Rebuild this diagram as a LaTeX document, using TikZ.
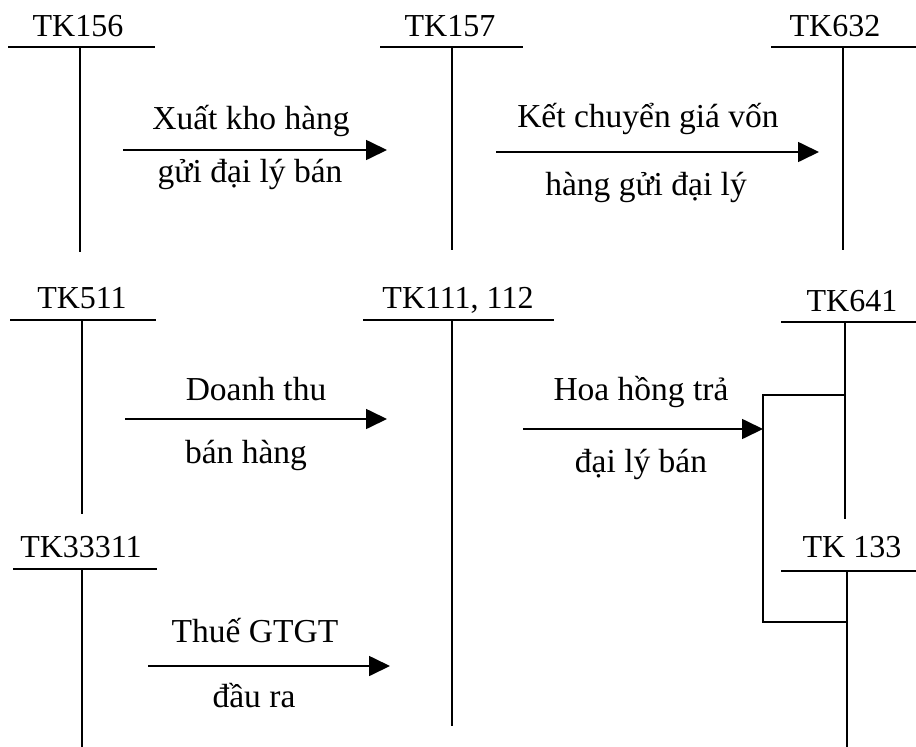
\documentclass[tikz,border=0pt]{standalone}
\usepackage{fontspec}
\setmainfont{Liberation Serif}
\usetikzlibrary{arrows.meta}
\begin{document}
\begin{tikzpicture}[x=1pt,y=-1pt,
  ln/.style={line width=1.7pt},
  flow/.style={line width=1.7pt,-{Triangle[length=21pt,width=20pt]}},
  acct/.style={anchor=base,inner sep=0pt,font=\fontsize{32}{34}\selectfont},
  note/.style={anchor=base,inner sep=0pt,font=\fontsize{33.5}{36}\selectfont}]
\useasboundingbox (0,0) rectangle (916,747);

% account labels
\node[acct] (k156) at (78,36) {TK156};
\node[acct] (k157) at (450,36) {TK157};
\node[acct] (k632) at (835,36) {TK632};
\node[acct] (k511) at (82,308) {TK511};
\node[acct] (k111) at (458,308) {TK111, 112};
\node[acct] (k641) at (852,311) {TK641};
\node[acct] (k333) at (81,557) {TK33311};
\node[acct] (k133) at (852,557) {TK 133};

% T-account lines
\draw[ln] (8,47) -- (155,47);   \draw[ln] (80,47) -- (80,252);
\draw[ln] (380,47) -- (523,47); \draw[ln] (452,47) -- (452,250);
\draw[ln] (771,47) -- (916,47); \draw[ln] (843,47) -- (843,250);
\draw[ln] (10,320) -- (156,320); \draw[ln] (82,320) -- (82,514);
\draw[ln] (363,320) -- (554,320); \draw[ln] (452,320) -- (452,726);
\draw[ln] (781,322) -- (916,322); \draw[ln] (845,322) -- (845,519);
\draw[ln] (13,569) -- (157,569); \draw[ln] (82,569) -- (82,747);
\draw[ln] (781,571) -- (916,571); \draw[ln] (847,571) -- (847,747);

% split of the commission between TK641 and TK133
\coordinate (b641) at (845,395);
\coordinate (b133) at (847,622);
\coordinate (bin) at (763,429);
\draw[ln] (b641) -- (763,395) -- (763,622) -- (b133);

% flow arrows
\coordinate (a1s) at (123,150); \coordinate (a1e) at (387,150);
\coordinate (a2s) at (496,152); \coordinate (a2e) at (819,152);
\coordinate (a3s) at (125,419); \coordinate (a3e) at (387,419);
\coordinate (a4s) at (523,429);
\coordinate (a5s) at (148,666); \coordinate (a5e) at (390,666);
\draw[flow] (a1s) -- (a1e);
\draw[flow] (a2s) -- (a2e);
\draw[flow] (a3s) -- (a3e);
\draw[flow] (a4s) -- (bin);
\draw[flow] (a5s) -- (a5e);

% arrow captions
\node[note] (t1a) at (251,129) {Xuất kho hàng};
\node[note] (t1b) at (250,182) {gửi đại lý bán};
\node[note] (t2a) at (648,127) {Kết chuyển giá vốn};
\node[note] (t2b) at (646,195) {hàng gửi đại lý};
\node[note] (t3a) at (256,400) {Doanh thu};
\node[note] (t3b) at (246,463) {bán hàng};
\node[note] (t4a) at (641,400) {Hoa hồng trả};
\node[note] (t4b) at (641,472) {đại lý bán};
\node[note] (t5a) at (255,642) {Thuế GTGT};
\node[note] (t5b) at (254,707) {đầu ra};
\end{tikzpicture}
\end{document}
